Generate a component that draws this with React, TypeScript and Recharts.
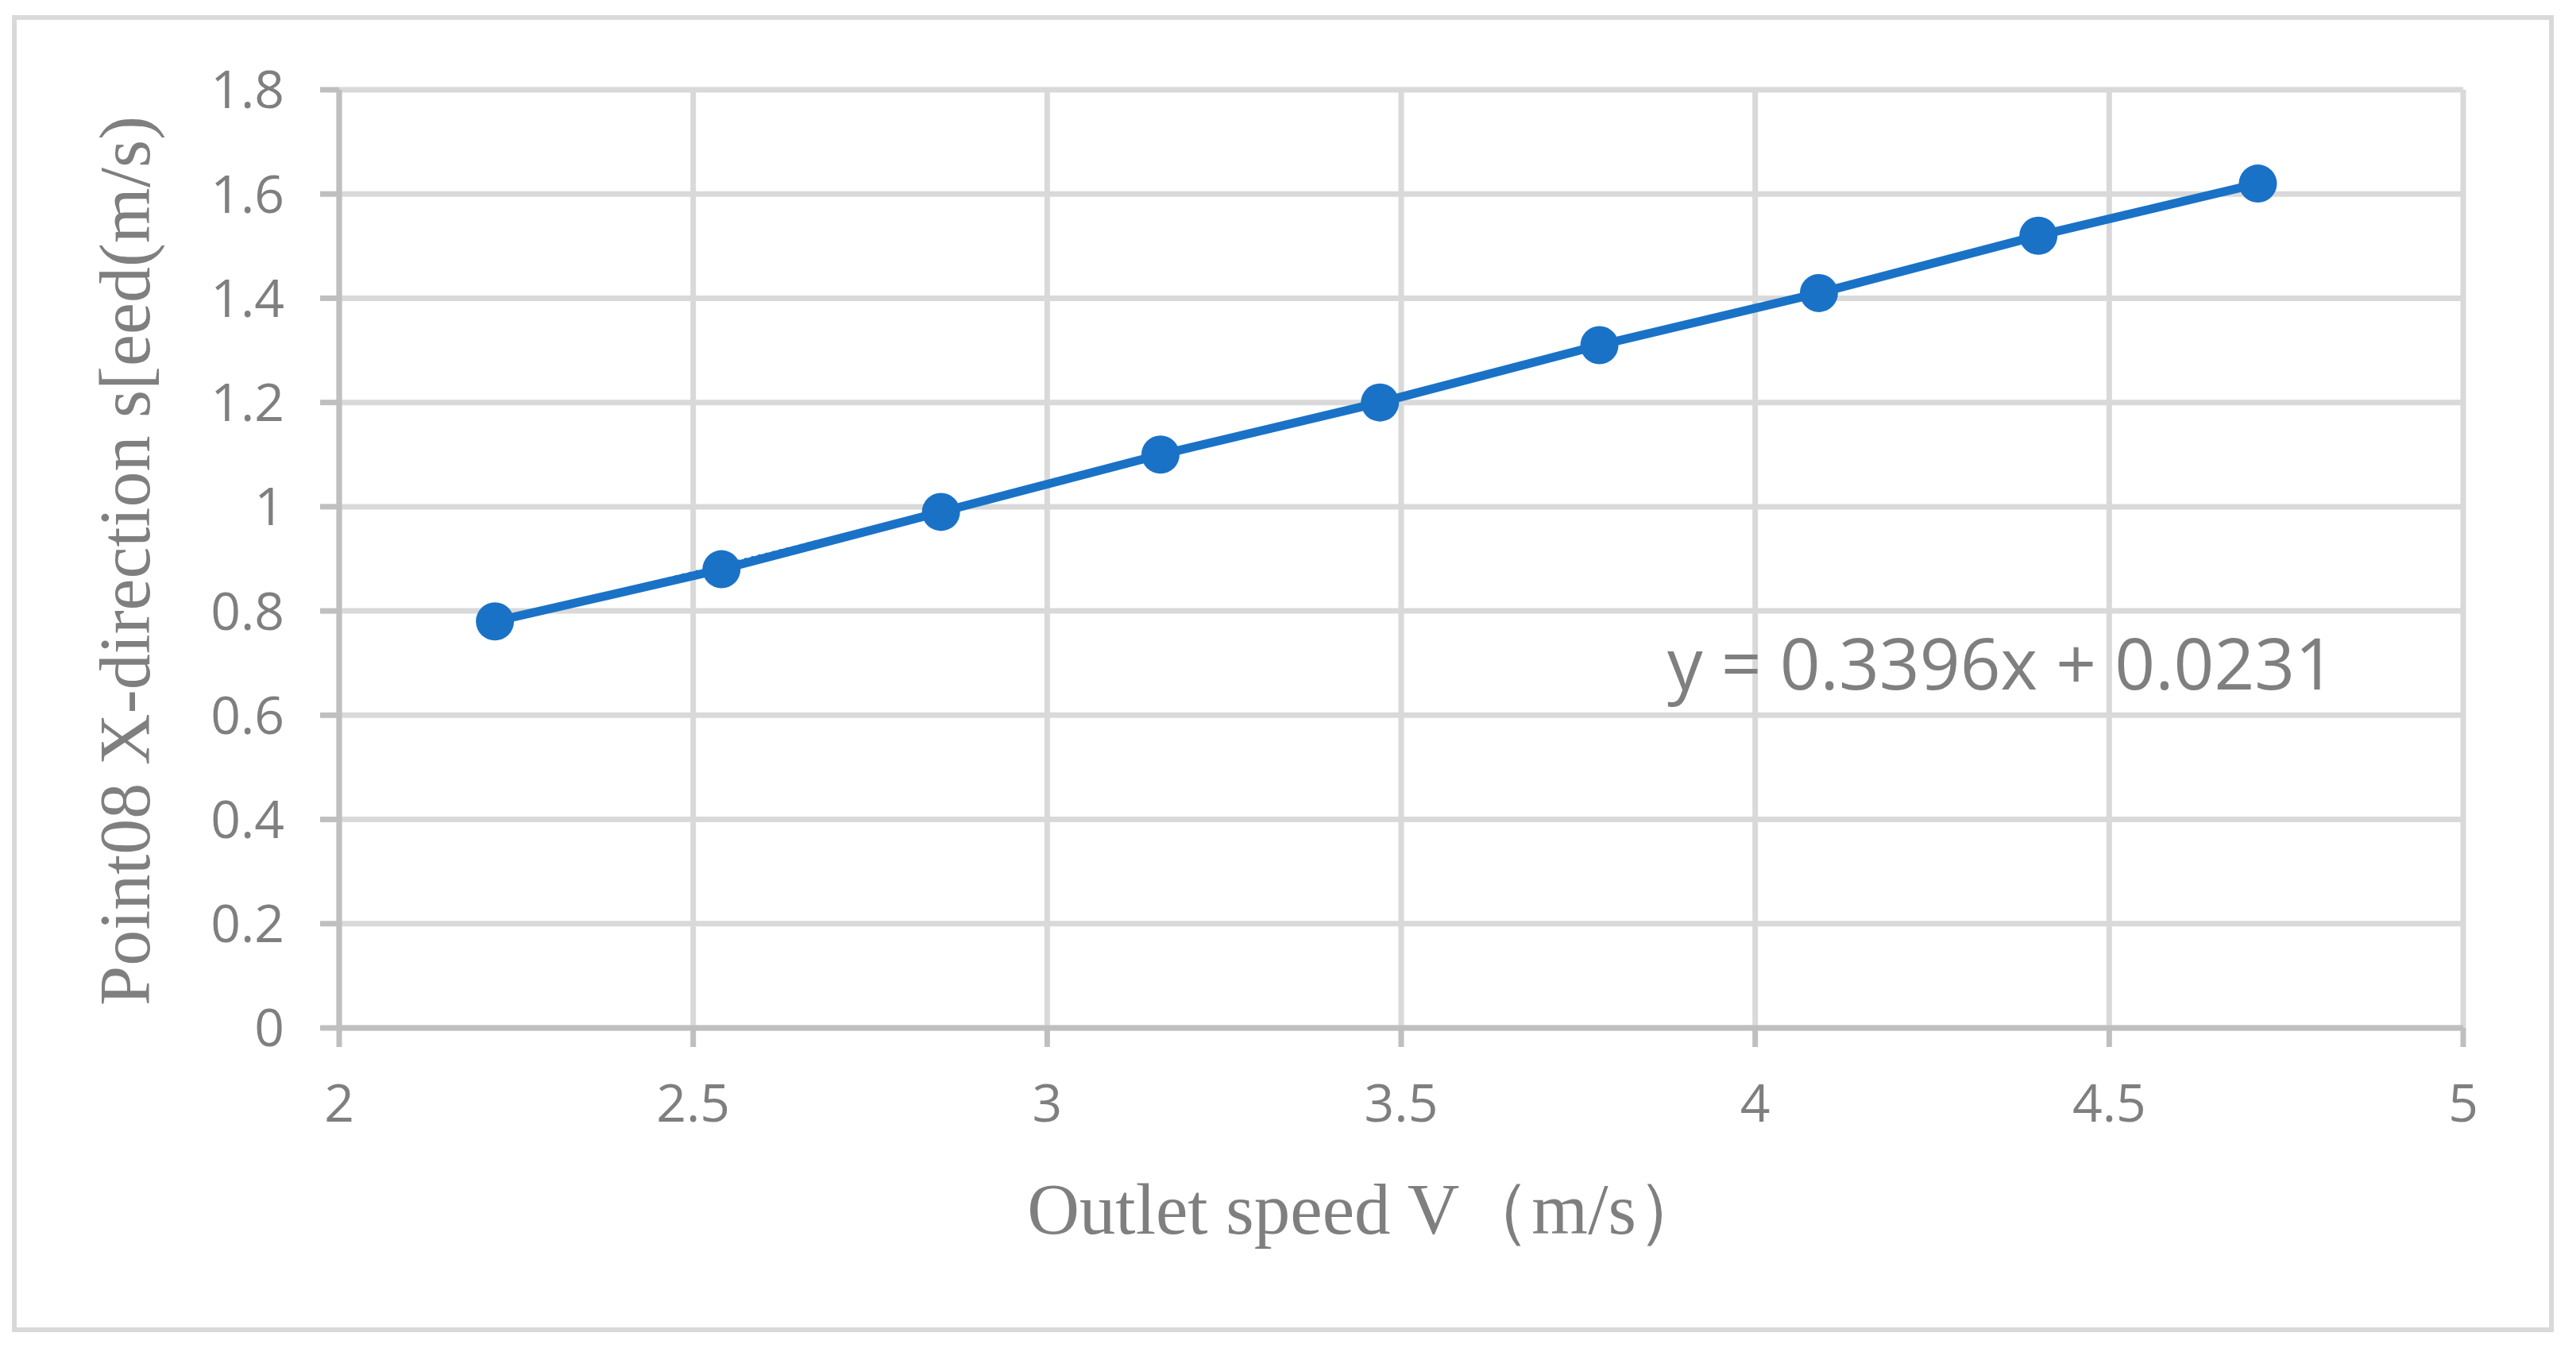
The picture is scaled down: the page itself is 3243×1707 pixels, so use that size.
import { LineChart, Line, XAxis, YAxis, CartesianGrid } from "recharts";

const outletSpeed = [2.22, 2.54, 2.85, 3.16, 3.47, 3.78, 4.09, 4.4, 4.71];
const pointSpeed = [0.78, 0.88, 0.99, 1.1, 1.2, 1.31, 1.41, 1.52, 1.62];

// linear trendline end points as they appear in the picture
const trendX = [2.22, 4.71];
const trendY = [0.777, 1.623];

const xTicks = [2, 2.5, 3, 3.5, 4, 4.5, 5];
const yTicks = [0, 0.2, 0.4, 0.6, 0.8, 1, 1.2, 1.4, 1.6, 1.8];

const equation = "y = 0.3396x + 0.0231";
const xTitle = "Outlet speed V（m/s）";
const yTitle = "Point08 X-direction s[eed(m/s)";

const points = outletSpeed.map((x, i) => ({ x, y: pointSpeed[i] }));
const trend = trendX.map((x, i) => ({ x, t: trendY[i] }));

const W = 3243;
const H = 1707;
const blue = "#1a72c7";
const grey = "#7f7f7f";
const tickFont = { fontSize: 66, fill: grey, fontFamily: "'Open Sans', sans-serif" };
const axisStroke = { stroke: "#bfbfbf", strokeWidth: 7 };

export default function App() {
  return (
    <div style={{ position: "absolute", left: 0, top: 0, width: W, height: H, background: "#fff" }}>
      <div
        style={{
          position: "absolute",
          left: 15,
          top: 19,
          width: 3200,
          height: 1658,
          border: "6px solid #d9d9d9",
          boxSizing: "border-box",
        }}
      />
      <div style={{ position: "absolute", left: 0, top: 0 }}>
        <LineChart width={W} height={H} margin={{ top: 113, right: 142, bottom: 313, left: 0 }}>
          <CartesianGrid stroke="#d9d9d9" strokeWidth={7} />
          <XAxis
            type="number"
            dataKey="x"
            domain={[2, 5]}
            ticks={xTicks}
            height={100}
            tick={tickFont}
            tickSize={24}
            tickMargin={47}
            axisLine={axisStroke}
            tickLine={axisStroke}
          />
          <YAxis
            type="number"
            domain={[0, 1.8]}
            ticks={yTicks}
            width={427}
            tick={tickFont}
            tickSize={24}
            tickMargin={45}
            axisLine={axisStroke}
            tickLine={axisStroke}
          />
          <Line
            data={trend}
            dataKey="t"
            stroke={blue}
            strokeWidth={6}
            strokeDasharray="3 6"
            dot={false}
            activeDot={false}
            isAnimationActive={false}
          />
          <Line
            data={points}
            dataKey="y"
            stroke={blue}
            strokeWidth={11}
            dot={{ r: 24, fill: blue, stroke: "none" }}
            activeDot={false}
            isAnimationActive={false}
          />
        </LineChart>
      </div>
      <svg width={W} height={H} style={{ position: "absolute", left: 0, top: 0, pointerEvents: "none" }}>
        <text
          x={188}
          y={706}
          transform="rotate(-90 188 706)"
          textAnchor="middle"
          fontFamily="'Liberation Serif', serif"
          fontSize={90}
          fill={grey}
        >
          {yTitle}
        </text>
        <text x={1722} y={1553} textAnchor="middle" fontFamily="'Liberation Serif', serif" fontSize={91} fill={grey}>
          {xTitle}
        </text>
        <text x={2099} y={868} fontFamily="'Open Sans', sans-serif" fontSize={89} fill={grey}>
          {equation}
        </text>
      </svg>
    </div>
  );
}
